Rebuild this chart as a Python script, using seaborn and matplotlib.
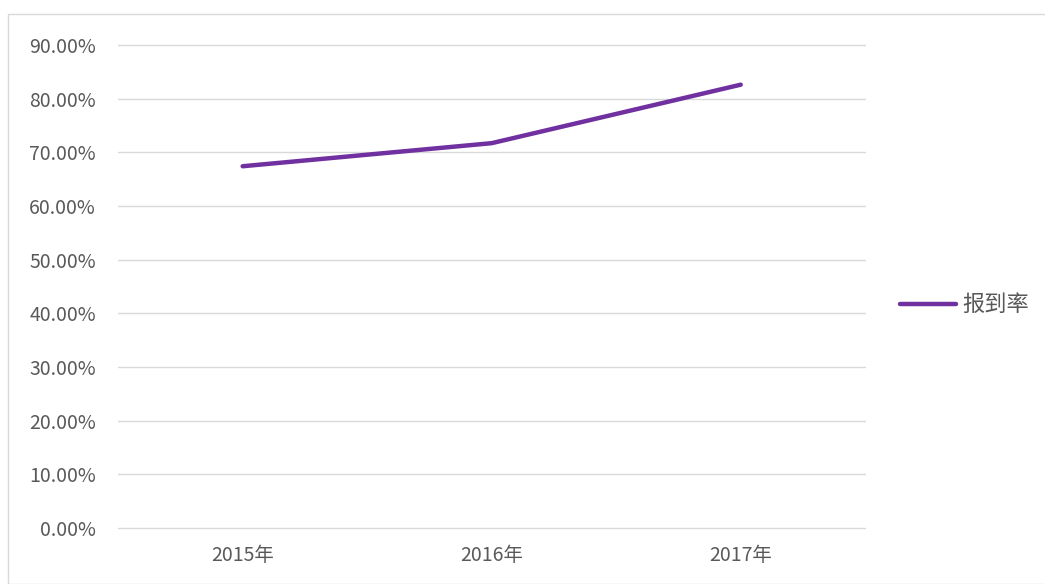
import numpy as np
import pandas as pd
import matplotlib
matplotlib.use('Agg')
import matplotlib.pyplot as plt
import seaborn as sns
from matplotlib.patches import Rectangle
from matplotlib.ticker import FuncFormatter

years = ['2015年', '2016年', '2017年']
rates = [0.674, 0.717, 0.826]
series_name = '报到率'

df = pd.DataFrame({'year': years, 'rate': rates, 'series': series_name})

sns.set_style('white')
plt.rcParams['font.family'] = ['Noto Sans CJK SC', 'DejaVu Sans']

fig = plt.figure(figsize=(10.45, 5.84), dpi=100)
ax = fig.add_axes([0.113, 0.096, 0.715, 0.827])

sns.lineplot(data=df, x='year', y='rate', hue='series', palette=['#7030A0'],
             linewidth=3.2, sort=False, ax=ax, solid_capstyle='round')

ax.set_xlim(-0.5, 2.5)
ax.set_ylim(0, 0.9)
ax.set_yticks(np.arange(0, 0.91, 0.1))
ax.yaxis.set_major_formatter(FuncFormatter(lambda v, p: f'{v * 100:.2f}%'))
ax.grid(axis='y', color='#d9d9d9', linewidth=1)
for gl in ax.get_ygridlines():
    gl.set_clip_on(False)
ax.set_axisbelow(True)
for s in ax.spines.values():
    s.set_visible(False)
ax.tick_params(axis='both', length=0, labelsize=14, colors='#595959')
ax.tick_params(axis='y', pad=16)
ax.tick_params(axis='x', pad=12)
ax.set_xlabel('')
ax.set_ylabel('')

leg = ax.legend(loc='center left', bbox_to_anchor=(1.047, 0.462), frameon=False,
                fontsize=16, handlelength=2.5, handletextpad=0.3,
                borderpad=0, borderaxespad=0)
for t in leg.get_texts():
    t.set_color('#595959')

fig.patches.append(Rectangle((8 / 1045, 0), 1.2, 1 - 14 / 584, transform=fig.transFigure,
                             fill=False, edgecolor='#d9d9d9', linewidth=1))

fig.savefig('out.png', dpi=100)
